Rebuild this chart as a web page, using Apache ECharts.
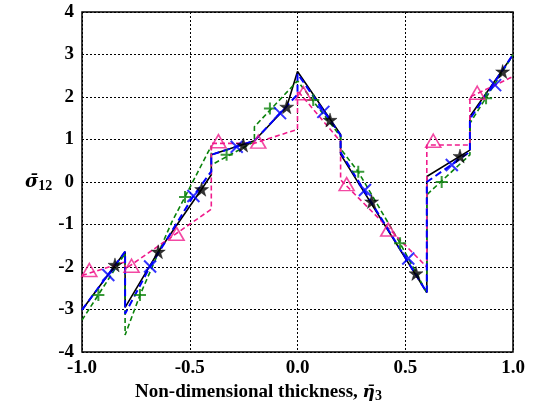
<!DOCTYPE html>
<html>
<head>
<meta charset="utf-8">
<script src="https://cdn.jsdelivr.net/npm/echarts@6/dist/echarts.min.js"></script>
<style>html,body{margin:0;padding:0;background:#fff;}#c{width:543px;height:415px;}</style>
</head>
<body>
<div id="c"></div>
<script>
// ---- data ----
var xTickLabels = ['-1.0', '-0.5', '0.0', '0.5', '1.0'];
var yTickLabels = ['-4', '-3', '-2', '-1', '0', '1', '2', '3', '4'];

// black solid line
var blackX = [-1, -0.8, -0.8, -0.646, -0.445, -0.4, -0.4, -0.2, -0.05, 0, 0.2, 0.2, 0.6, 0.6, 0.8, 0.8, 1];
var blackY = [-3.01, -1.64, -2.95, -1.64, -0.17, 0.17, 0.64, 0.97, 1.77, 2.6, 1.12, 0.65, -2.6, 0.13, 0.75, 1.54, 2.99];
var blackMarkX = [-0.847, -0.646, -0.445, -0.251, -0.05, 0.151, 0.344, 0.55, 0.754, 0.952];
var blackMarkY = [-1.95, -1.64, -0.17, 0.87, 1.77, 1.46, -0.46, -2.15, 0.61, 2.6];

// blue dashed line
var blueX = [-1, -0.8, -0.8, -0.684, -0.483, -0.4, -0.4, -0.2, 0, 0, 0.2, 0.2, 0.6, 0.6, 0.8, 0.8, 1];
var blueY = [-3.01, -1.64, -3.1, -1.99, -0.33, 0.25, 0.64, 0.97, 2.06, 2.55, 1.1, 0.7, -2.6, 0.0, 0.71, 1.48, 3.0];
var blueMarkX = [-0.878, -0.684, -0.483, -0.282, -0.081, 0.12, 0.313, 0.514, 0.716, 0.917];
var blueMarkY = [-2.19, -1.99, -0.33, 0.83, 1.62, 1.65, -0.19, -1.8, 0.4, 2.28];

// green dashed line
var greenX = [-1, -0.8, -0.8, -0.731, -0.584, -0.522, -0.4, -0.4, -0.2, -0.2, 0, 0.2, 0.2, 0.282, 0.476, 0.6, 0.6, 0.8, 0.8, 1];
var greenY = [-3.25, -1.68, -3.6, -2.66, -0.95, -0.35, 0.85, 0.4, 0.95, 1.3, 2.38, 1.07, 0.78, 0.24, -1.44, -2.6, -0.3, 0.64, 1.38, 2.99];
var greenMarkX = [-0.924, -0.731, -0.522, -0.329, -0.128, 0.073, 0.282, 0.476, 0.669, 0.875];
var greenMarkY = [-2.66, -2.66, -0.35, 0.64, 1.73, 1.93, 0.24, -1.44, 0.0, 1.97];

// pink dashed line
var pinkX = [-1, -0.8, -0.8, -0.4, -0.4, -0.2, 0, 0, 0.2, 0.2, 0.6, 0.6, 0.8, 0.8, 1];
var pinkY = [-2.2, -1.88, -2.05, -0.64, 0.91, 0.91, 1.24, 2.15, 0.95, 0.05, -2.0, 0.87, 0.87, 2.0, 2.48];
var pinkMarkX = [-0.966, -0.77, -0.561, -0.367, -0.182, 0.027, 0.228, 0.421, 0.63, 0.834];
var pinkMarkY = [-2.07, -1.97, -1.22, 0.96, 0.95, 2.09, -0.05, -1.12, 0.97, 2.1];

function pairs(xs, ys) { return xs.map(function (x, i) { return [x, ys[i]]; }); }

var FONT = 'Liberation Serif';
var GFONT = 'DejaVu Serif';
var starPath = 'path://M50,0 L61,35 L98,35 L68,57 L79,91 L50,70 L21,91 L32,57 L2,35 L39,35 Z';
var xPath = 'path://M0,0L10,10M10,0L0,10';
var plusPath = 'path://M5,0L5,10M0,5L10,5';

function lineSeries(xs, ys, color, width, dash, z) {
  return {
    type: 'line', data: pairs(xs, ys), showSymbol: false, symbol: 'none',
    lineStyle: { color: color, width: width, type: dash }, z: z, silent: true
  };
}
function markSeries(xs, ys, symbol, size, style, z) {
  return {
    type: 'scatter', data: pairs(xs, ys), symbol: symbol, symbolSize: size,
    itemStyle: style, z: z, silent: true
  };
}

var chart = echarts.init(document.getElementById('c'), null, { renderer: 'canvas' });
chart.setOption({
  animation: false,
  backgroundColor: '#fff',
  grid: { left: 82, right: 30, top: 12, bottom: 63, show: true, borderColor: '#000', borderWidth: 1.5, containLabel: false },
  xAxis: {
    type: 'value', min: -1, max: 1, interval: 0.5,
    name: '{a|Non-dimensional thickness, }{b|η\u0304}{c|3}',
    nameLocation: 'middle', nameGap: 29,
    nameTextStyle: {
      padding: [0, 78, 0, 0],
      rich: {
        a: { fontFamily: FONT, fontWeight: 'bold', fontSize: 19, color: '#000' },
        b: { fontFamily: GFONT, fontWeight: 'bold', fontStyle: 'italic', fontSize: 17, color: '#000' },
        c: { fontFamily: FONT, fontWeight: 'bold', fontSize: 14, color: '#000', padding: [8, 0, 0, 0] }
      }
    },
    axisLine: { show: false }, axisTick: { show: false },
    axisLabel: {
      fontFamily: FONT, fontWeight: 'bold', fontSize: 19, color: '#000', margin: 7,
      formatter: function (v) { return xTickLabels[Math.round((v + 1) / 0.5)]; }
    },
    splitLine: { show: true, lineStyle: { color: '#000', width: 1, type: [2, 2] } }
  },
  yAxis: {
    type: 'value', min: -4, max: 4, interval: 1,
    name: '{b|σ\u0304}{c|12}',
    nameLocation: 'middle', nameGap: 29, nameRotate: 0,
    nameTextStyle: {
      rich: {
        b: { fontFamily: GFONT, fontWeight: 'bold', fontStyle: 'italic', fontSize: 18, color: '#000' },
        c: { fontFamily: FONT, fontWeight: 'bold', fontSize: 14, color: '#000', padding: [8, 0, 0, 0] }
      }
    },
    axisLine: { show: false }, axisTick: { show: false },
    axisLabel: {
      fontFamily: FONT, fontWeight: 'bold', fontSize: 19, color: '#000', margin: 8,
      formatter: function (v) { return yTickLabels[Math.round(v + 4)]; }
    },
    splitLine: { show: true, lineStyle: { color: '#000', width: 1, type: [2, 2] } }
  },
  series: [
    lineSeries(blackX, blackY, '#000000', 1.6, 'solid', 2),
    lineSeries(greenX, greenY, '#0a820a', 1.6, [5, 3], 3),
    lineSeries(pinkX, pinkY, '#f01c8c', 1.6, [5, 3], 4),
    lineSeries(blueX, blueY, '#0000ff', 2, [7, 4], 5),
    markSeries(greenMarkX, greenMarkY, plusPath, 12, { color: 'rgba(0,0,0,0)', borderColor: '#0a820a', borderWidth: 2 }, 6),
    markSeries(pinkMarkX, pinkMarkY, 'triangle', [15, 13], { color: 'rgba(0,0,0,0)', borderColor: '#f01c8c', borderWidth: 1.6 }, 7),
    markSeries(blueMarkX, blueMarkY, xPath, 12, { color: 'rgba(0,0,0,0)', borderColor: '#0000ff', borderWidth: 2 }, 8),
    markSeries(blackMarkX, blackMarkY, starPath, 14, { color: '#000', borderColor: '#000', borderWidth: 0.5 }, 9)
  ]
});
</script>
</body>
</html>
